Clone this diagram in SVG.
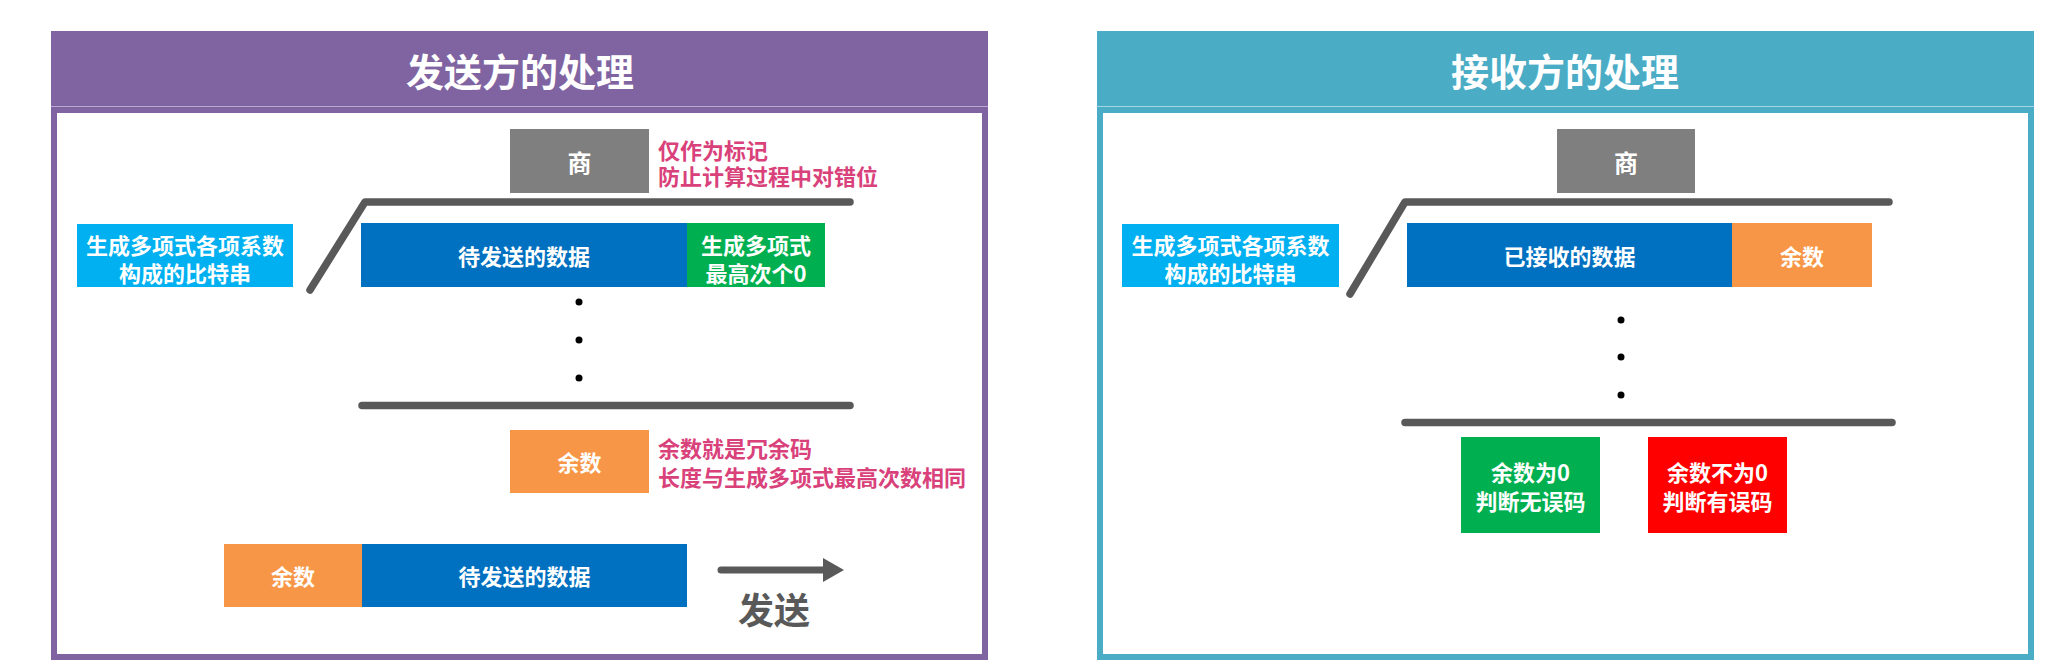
<svg xmlns="http://www.w3.org/2000/svg" width="2050" height="667" viewBox="0 0 2050 667">
<style>
text{font-family:"Noto Sans CJK SC","Noto Sans",sans-serif;font-weight:bold;text-anchor:middle;dominant-baseline:central}
.w{fill:#FFFFFF;font-size:22px}
.title{fill:#FFFFFF;font-size:38px}
.pink{fill:#D9417A;font-size:22px;text-anchor:start;stroke:#FFFFFF;stroke-width:4px;paint-order:stroke;stroke-linejoin:round}
.line{fill:none;stroke:#595959;stroke-width:7.5;stroke-linecap:round;stroke-linejoin:round}
.dot{fill:#000000}
</style>
<rect x="0" y="0" width="2050" height="667" fill="#FFFFFF"/>

<g id="sender-panel">
  <rect x="51" y="31" width="937" height="75" fill="#8064A2"/>
  <line x1="51" y1="106.5" x2="988" y2="106.5" stroke="#B9A8CF" stroke-width="1"/>
  <rect x="54" y="110" width="931" height="547" fill="#FFFFFF" stroke="#8064A2" stroke-width="6"/>
  <text class="title" x="520" y="69">发送方的处理</text>
</g>

<g id="receiver-panel">
  <rect x="1097" y="31" width="937" height="75" fill="#4BACC6"/>
  <line x1="1097" y1="106.5" x2="2034" y2="106.5" stroke="#A5D5E2" stroke-width="1"/>
  <rect x="1100" y="110" width="931" height="547" fill="#FFFFFF" stroke="#4BACC6" stroke-width="6"/>
  <text class="title" x="1565" y="69">接收方的处理</text>
</g>

<g id="connectors">
  <polyline class="line" points="310,290 365,202 850,202"/>
  <line class="line" x1="362" y1="405.5" x2="850" y2="405.5"/>
  <polyline class="line" points="1350,294 1405,202 1889,202"/>
  <line class="line" x1="1405" y1="422.5" x2="1892" y2="422.5"/>
  <line x1="721" y1="570" x2="826" y2="570" stroke="#595959" stroke-width="7" stroke-linecap="round"/>
  <polygon points="823,558 844,570 823,582" fill="#595959"/>
</g>

<g id="s-quotient">
  <rect x="510" y="129" width="139" height="64" fill="#7F7F7F"/>
  <text class="w" x="579.5" y="161" style="font-size:24px">商</text>
</g>
<g id="s-quotient-note">
  <text class="pink" x="658" y="149">仅作为标记</text>
  <text class="pink" x="658" y="175">防止计算过程中对错位</text>
</g>
<g id="s-divisor">
  <rect x="77" y="224" width="216" height="63" fill="#00B0F0"/>
  <text class="w" x="185" y="244">生成多项式各项系数</text>
  <text class="w" x="185" y="272">构成的比特串</text>
</g>
<g id="s-data">
  <rect x="361" y="223" width="326" height="64" fill="#0070C0"/>
  <text class="w" x="524" y="255">待发送的数据</text>
</g>
<g id="s-zeros">
  <rect x="687" y="223" width="138" height="64" fill="#00B050"/>
  <text class="w" x="756" y="244">生成多项式</text>
  <text class="w" x="756" y="272">最高次个0</text>
</g>
<g id="s-dots">
  <circle class="dot" cx="579" cy="302" r="3.5"/>
  <circle class="dot" cx="579" cy="340" r="3.5"/>
  <circle class="dot" cx="579" cy="378" r="3.5"/>
</g>
<g id="s-remainder">
  <rect x="510" y="430" width="139" height="63" fill="#F79646"/>
  <text class="w" x="579.5" y="461">余数</text>
</g>
<g id="s-remainder-note">
  <text class="pink" x="658" y="447">余数就是冗余码</text>
  <text class="pink" x="658" y="476">长度与生成多项式最高次数相同</text>
</g>
<g id="s-frame-remainder">
  <rect x="224" y="544" width="138" height="63" fill="#F79646"/>
  <text class="w" x="293" y="575">余数</text>
</g>
<g id="s-frame-data">
  <rect x="362" y="544" width="325" height="63" fill="#0070C0"/>
  <text class="w" x="524.5" y="575">待发送的数据</text>
</g>
<g id="s-send-label">
  <text x="774" y="608" style="fill:#595959;font-size:36px">发送</text>
</g>

<g id="r-quotient">
  <rect x="1557" y="129" width="138" height="64" fill="#7F7F7F"/>
  <text class="w" x="1626" y="161" style="font-size:24px">商</text>
</g>
<g id="r-divisor">
  <rect x="1122" y="224" width="217" height="63" fill="#00B0F0"/>
  <text class="w" x="1230.5" y="244">生成多项式各项系数</text>
  <text class="w" x="1230.5" y="272">构成的比特串</text>
</g>
<g id="r-data">
  <rect x="1407" y="223" width="325" height="64" fill="#0070C0"/>
  <text class="w" x="1569.5" y="255">已接收的数据</text>
</g>
<g id="r-remainder">
  <rect x="1732" y="223" width="140" height="64" fill="#F79646"/>
  <text class="w" x="1802" y="255">余数</text>
</g>
<g id="r-dots">
  <circle class="dot" cx="1621" cy="320" r="3.5"/>
  <circle class="dot" cx="1621" cy="357" r="3.5"/>
  <circle class="dot" cx="1621" cy="395" r="3.5"/>
</g>
<g id="r-ok">
  <rect x="1461" y="437" width="139" height="96" fill="#00B050"/>
  <text class="w" x="1530.5" y="471">余数为0</text>
  <text class="w" x="1530.5" y="500">判断无误码</text>
</g>
<g id="r-err">
  <rect x="1648" y="437" width="139" height="96" fill="#FF0000"/>
  <text class="w" x="1717.5" y="471">余数不为0</text>
  <text class="w" x="1717.5" y="500">判断有误码</text>
</g>
</svg>
